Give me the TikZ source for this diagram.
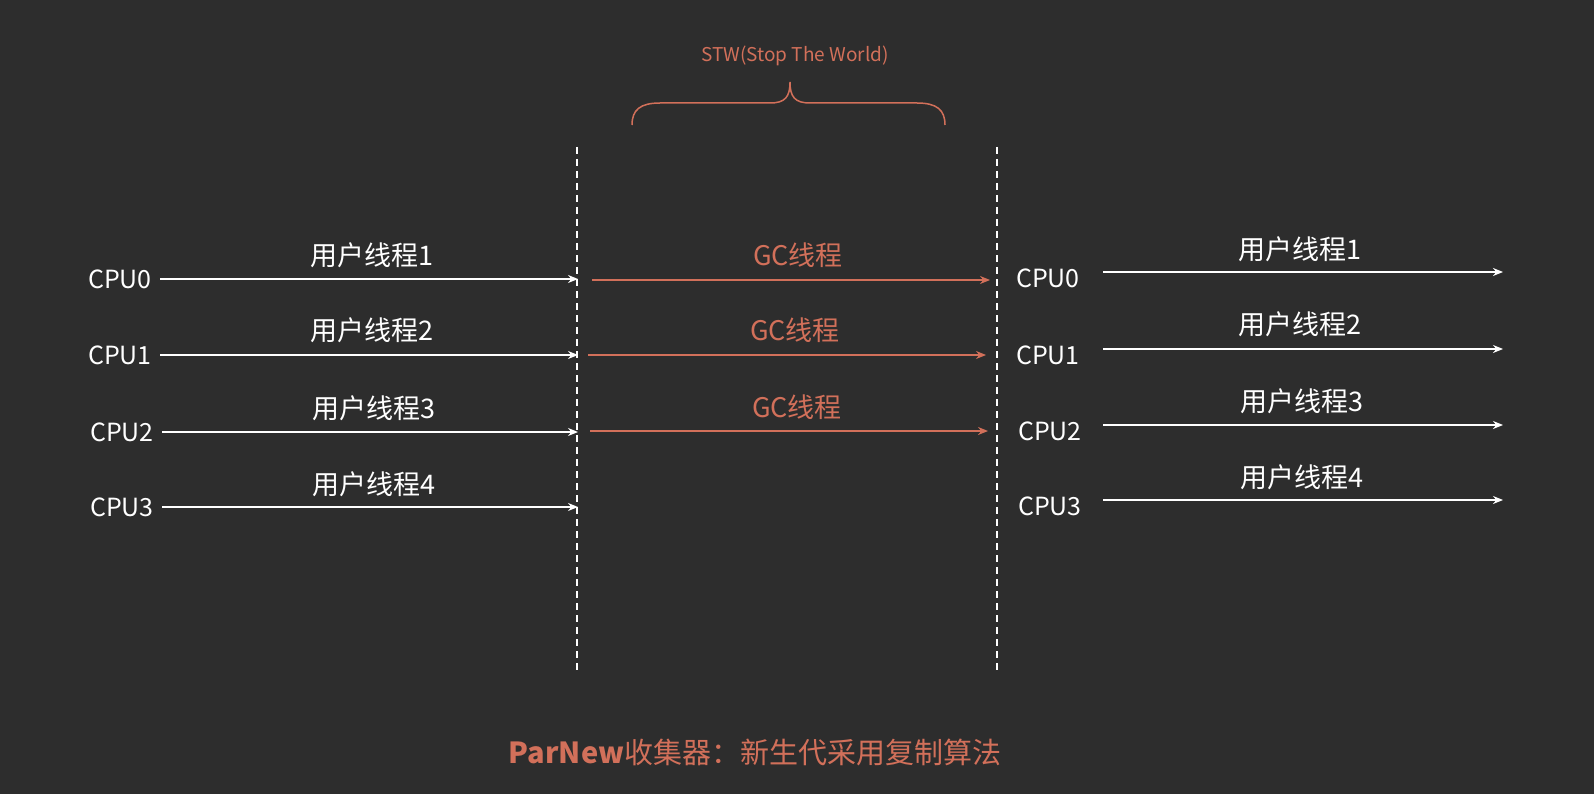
\documentclass[tikz,border=0pt]{standalone}
\usepackage{fontspec}
\setmainfont{Noto Sans CJK SC}
\usetikzlibrary{arrows.meta,decorations.pathreplacing}
\definecolor{bg}{HTML}{2D2D2D}
\definecolor{org}{HTML}{D2705A}
\tikzset{
  wline/.style={draw=white,line width=2pt,-{Stealth[length=10pt,width=8pt]}},
  gline/.style={draw=org,line width=2pt,-{Stealth[length=10pt,width=8pt]}},
  cpu/.style={text=white,font=\fontsize{25}{28}\selectfont,inner sep=0pt},
  ut/.style={text=white,font=\fontsize{27}{30}\selectfont,inner sep=0pt},
  gt/.style={text=org,font=\fontsize{27}{30}\selectfont,inner sep=0pt},
  dline/.style={draw=white,line width=2pt,dash pattern=on 7pt off 5pt}
}
\begin{document}
\begin{tikzpicture}[x=1pt,y=-1pt]
\fill[bg] (0,0) rectangle (1594,794);
\useasboundingbox (0,0) rectangle (1594,794);
% dashed lines
\coordinate (d1t) at (577,147); \coordinate (d1b) at (577,672);
\coordinate (d2t) at (997,147); \coordinate (d2b) at (997,672);
\draw[dline] (d1t) -- (d1b);
\draw[dline] (d2t) -- (d2b);
% left
\foreach \i/\y/\cx/\ly in {0/279/120/255,1/355/120/330,2/432/122/408,3/507/122/484}{
  \node[cpu] (lc\i) at (\cx,\y) {CPU\i};
  \coordinate (le\i) at (578,\y);
  \draw[wline] (lc\i.east)++(8,0) -- (le\i);
}
\node[ut] (lu0) at (372,255) {用户线程1};
\node[ut] (lu1) at (372,330) {用户线程2};
\node[ut] (lu2) at (374,408) {用户线程3};
\node[ut] (lu3) at (374,484) {用户线程4};
% GC
\coordinate (gs0) at (592,280); \coordinate (ge0) at (990,280);
\coordinate (gs1) at (588,355); \coordinate (ge1) at (986,355);
\coordinate (gs2) at (590,431); \coordinate (ge2) at (988,431);
\draw[gline] (gs0) -- (ge0);
\draw[gline] (gs1) -- (ge1);
\draw[gline] (gs2) -- (ge2);
\node[gt] (g0) at (798,255) {GC线程};
\node[gt] (g1) at (795,330) {GC线程};
\node[gt] (g2) at (797,407) {GC线程};
% right
\foreach \i/\y/\cx/\ly in {0/272/1048/249,1/349/1048/324,2/425/1050/401,3/500/1050/477}{
  \node[cpu] (rc\i) at (\cx,\y+6) {CPU\i};
  \coordinate (re\i) at (1503,\y);
  \coordinate (rs\i) at (1103,\y);
  \draw[wline] (rs\i) -- (re\i);
}
\node[ut] (ru0) at (1300,249) {用户线程1};
\node[ut] (ru1) at (1300,324) {用户线程2};
\node[ut] (ru2) at (1302,401) {用户线程3};
\node[ut] (ru3) at (1302,477) {用户线程4};
% brace
\coordinate (b1) at (632,125); \coordinate (b2) at (945,125);
\draw[org,line width=1.5pt] (b1) .. controls (632,110) and (640,103) .. (660,103) -- (770,103) .. controls (785,103) and (790,97) .. (790,82)
  .. controls (790,97) and (795,103) .. (810,103) -- (917,103) .. controls (937,103) and (945,110) .. (b2);
\node[text=org,font=\fontsize{19}{22}\selectfont,inner sep=0pt] (stw) at (795,56) {STW(Stop The World)};
% title
\node[text=org,font=\fontsize{29}{32}\selectfont,inner sep=0pt] (title) at (755,752) {\textbf{ParNew}收集器：新生代采用复制算法};
\end{tikzpicture}
\end{document}
